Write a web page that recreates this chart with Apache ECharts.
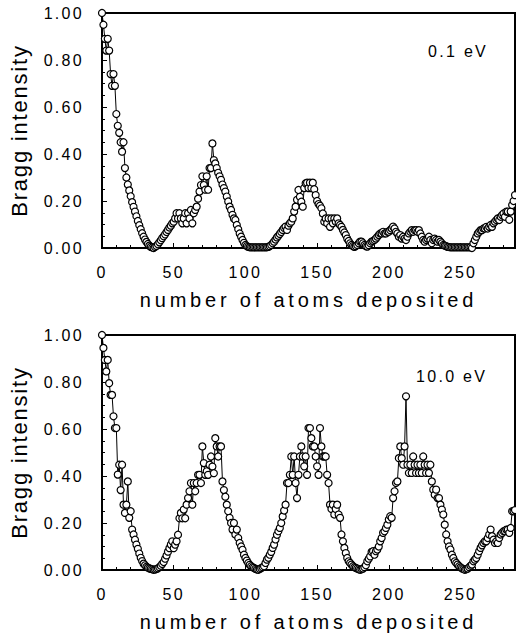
<!DOCTYPE html>
<html>
<head>
<meta charset="utf-8">
<script src="https://cdn.jsdelivr.net/npm/echarts@6/dist/echarts.min.js"></script>
<style>
  html, body { margin: 0; padding: 0; background: #fff; }
  #chart { width: 516px; height: 639px; }
</style>
</head>
<body>
<div id="chart"></div>
<script>
// Bragg intensity per deposited atom (index = number of atoms deposited, 0..288)
const intensity01eV = [
  1.00, 0.95, 0.89, 0.84, 0.89, 0.84, 0.74, 0.69, 0.74, 0.69,
  0.57, 0.52, 0.49, 0.45, 0.41, 0.45, 0.34, 0.30, 0.27, 0.245,
  0.22, 0.195, 0.175, 0.155, 0.135, 0.115, 0.097, 0.08, 0.063, 0.048,
  0.036, 0.026, 0.017, 0.01, 0.005, 0.002, 0.0, 0.004, 0.009, 0.016,
  0.024, 0.033, 0.042, 0.05, 0.058, 0.068, 0.077, 0.087, 0.095, 0.105,
  0.112, 0.126, 0.148, 0.126, 0.148, 0.126, 0.105, 0.126, 0.148, 0.105,
  0.148, 0.126, 0.162, 0.105, 0.148, 0.162, 0.176, 0.21, 0.24, 0.268,
  0.305, 0.268, 0.248, 0.305, 0.248, 0.34, 0.34, 0.445, 0.374, 0.36,
  0.34, 0.32, 0.305, 0.29, 0.27, 0.255, 0.24, 0.219, 0.198, 0.176,
  0.162, 0.141, 0.126, 0.119, 0.098, 0.08, 0.062, 0.048, 0.034, 0.022,
  0.013, 0.008, 0.005, 0.003, 0.003, 0.003, 0.003, 0.003, 0.003, 0.003,
  0.003, 0.003, 0.003, 0.003, 0.003, 0.003, 0.005, 0.008, 0.013, 0.02,
  0.027, 0.036, 0.045, 0.052, 0.06, 0.068, 0.077, 0.085, 0.091, 0.077,
  0.095, 0.105, 0.112, 0.126, 0.155, 0.176, 0.205, 0.247, 0.218, 0.197,
  0.176, 0.255, 0.275, 0.278, 0.255, 0.278, 0.255, 0.278, 0.25, 0.225,
  0.2, 0.187, 0.18, 0.169, 0.147, 0.112, 0.126, 0.105, 0.126, 0.09,
  0.126, 0.105, 0.126, 0.112, 0.126, 0.105, 0.098, 0.09, 0.077, 0.066,
  0.055, 0.04, 0.03, 0.02, 0.013, 0.008, 0.005, 0.008, 0.013, 0.02,
  0.027, 0.027, 0.02, 0.013, 0.008, 0.006, 0.012, 0.02, 0.027, 0.03,
  0.034, 0.04, 0.048, 0.055, 0.062, 0.062, 0.069, 0.062, 0.062, 0.069,
  0.069, 0.076, 0.083, 0.091, 0.083, 0.069, 0.062, 0.048, 0.055, 0.04,
  0.048, 0.04, 0.034, 0.048, 0.062, 0.069, 0.076, 0.069, 0.076, 0.076,
  0.069, 0.076, 0.062, 0.048, 0.034, 0.027, 0.034, 0.04, 0.048, 0.034,
  0.02, 0.034, 0.04, 0.034, 0.027, 0.034, 0.027, 0.02, 0.013, 0.01,
  0.008, 0.005, 0.004, 0.003, 0.003, 0.003, 0.003, 0.003, 0.003, 0.003,
  0.003, 0.003, 0.003, 0.003, 0.003, 0.003, 0.003, 0.003, 0.0, 0.02,
  0.034, 0.048, 0.062, 0.069, 0.076, 0.076, 0.083, 0.083, 0.09, 0.083,
  0.09, 0.098, 0.09, 0.105, 0.112, 0.119, 0.126, 0.119, 0.133, 0.14,
  0.147, 0.133, 0.155, 0.155, 0.12, 0.155, 0.183, 0.2, 0.225
];
const intensity10eV = [
  1.00, 0.945, 0.894, 0.845, 0.894, 0.795, 0.745, 0.745, 0.654, 0.604,
  0.604, 0.406, 0.448, 0.34, 0.448, 0.278, 0.243, 0.278, 0.377, 0.222,
  0.25, 0.172, 0.151, 0.129, 0.108, 0.09, 0.07, 0.052, 0.038, 0.027,
  0.02, 0.014, 0.01, 0.007, 0.005, 0.003, 0.001, 0.002, 0.004, 0.007,
  0.012, 0.018, 0.026, 0.034, 0.048, 0.062, 0.078, 0.093, 0.108, 0.122,
  0.093, 0.108, 0.122, 0.15, 0.22, 0.243, 0.22, 0.257, 0.22, 0.278,
  0.306, 0.335, 0.37, 0.278, 0.37, 0.335, 0.37, 0.405, 0.405, 0.37,
  0.526, 0.455, 0.405, 0.42, 0.405, 0.448, 0.483, 0.44, 0.412, 0.561,
  0.526, 0.483, 0.526, 0.526, 0.377, 0.34, 0.312, 0.278, 0.25, 0.222,
  0.2, 0.172, 0.2, 0.151, 0.172, 0.136, 0.115, 0.1, 0.086, 0.065,
  0.051, 0.04, 0.03, 0.022, 0.016, 0.012, 0.009, 0.005, 0.002, 0.001,
  0.004, 0.008, 0.012, 0.016, 0.03, 0.044, 0.052, 0.065, 0.077, 0.094,
  0.108, 0.13, 0.15, 0.165, 0.179, 0.2, 0.228, 0.253, 0.278, 0.37,
  0.37, 0.405, 0.483, 0.405, 0.483, 0.37, 0.306, 0.405, 0.483, 0.526,
  0.483, 0.441, 0.483, 0.405, 0.604, 0.604, 0.561, 0.526, 0.526, 0.483,
  0.441, 0.405, 0.604, 0.526, 0.483, 0.483, 0.483, 0.405, 0.37, 0.278,
  0.26, 0.278, 0.236, 0.26, 0.278, 0.236, 0.222, 0.151, 0.122, 0.094,
  0.072, 0.051, 0.037, 0.03, 0.023, 0.016, 0.012, 0.009, 0.006, 0.003,
  0.001, 0.003, 0.006, 0.012, 0.02, 0.037, 0.048, 0.058, 0.077, 0.08,
  0.065, 0.08, 0.087, 0.1, 0.122, 0.136, 0.158, 0.165, 0.179, 0.193,
  0.215, 0.229, 0.222, 0.306, 0.335, 0.37, 0.377, 0.476, 0.526, 0.476,
  0.448, 0.526, 0.739, 0.448, 0.413, 0.448, 0.413, 0.483, 0.448, 0.413,
  0.448, 0.413, 0.448, 0.413, 0.483, 0.448, 0.413, 0.448, 0.413, 0.448,
  0.377, 0.342, 0.32, 0.342, 0.306, 0.306, 0.278, 0.257, 0.236, 0.193,
  0.151, 0.122, 0.1, 0.087, 0.065, 0.051, 0.037, 0.03, 0.023, 0.016,
  0.011, 0.007, 0.004, 0.001, 0.003, 0.006, 0.012, 0.018, 0.023, 0.037,
  0.044, 0.051, 0.065, 0.08, 0.094, 0.105, 0.115, 0.122, 0.122, 0.136,
  0.151, 0.172, 0.144, 0.129, 0.115, 0.122, 0.115, 0.136, 0.151, 0.158,
  0.165, 0.165, 0.172, 0.172, 0.158, 0.179, 0.25, 0.25, 0.255
];
const panelLabels = ['0.1 eV', '10.0 eV'];
const xTitle = 'number of atoms deposited';
const yTitle = 'Bragg intensity';
const xMax = 288;

const FONT = "'Liberation Sans', Arial, sans-serif";
const toPairs = arr => arr.map((v, i) => [i, v]);

function xAxisFor(gi) {
  return {
    type: 'value', gridIndex: gi, min: 0, max: xMax, interval: 50,
    name: xTitle, nameLocation: 'middle', nameGap: 42,
    nameTextStyle: { fontFamily: FONT, fontSize: 20, color: '#000' },
    axisLine: { show: true, lineStyle: { color: '#000', width: 2 } },
    axisTick: { show: true, inside: true, length: 5, lineStyle: { color: '#000', width: 1 } },
    minorTick: { show: true, splitNumber: 5, length: 3, lineStyle: { color: '#000', width: 1 } },
    axisLabel: { fontFamily: FONT, fontSize: 16, color: '#000', margin: 16, showMaxLabel: false },
    splitLine: { show: false }, minorSplitLine: { show: false }
  };
}
function yAxisFor(gi) {
  return {
    type: 'value', gridIndex: gi, min: 0, max: 1, interval: 0.2,
    name: yTitle, nameLocation: 'middle', nameGap: 72,
    nameTextStyle: { fontFamily: FONT, fontSize: 22, color: '#000' },
    axisLine: { show: true, lineStyle: { color: '#000', width: 2 } },
    axisTick: { show: true, inside: true, length: 5, lineStyle: { color: '#000', width: 1 } },
    minorTick: { show: true, splitNumber: 4, length: 3, lineStyle: { color: '#000', width: 1 } },
    axisLabel: { fontFamily: FONT, fontSize: 16, color: '#000', margin: 18,
                 formatter: v => v.toFixed(2) },
    splitLine: { show: false }, minorSplitLine: { show: false }
  };
}
function seriesFor(gi, arr) {
  return {
    type: 'line', xAxisIndex: gi, yAxisIndex: gi, data: toPairs(arr),
    symbol: 'circle', symbolSize: 7, showAllSymbol: true,
    lineStyle: { color: '#000', width: 1 },
    itemStyle: { color: '#fff', borderColor: '#000', borderWidth: 1.2 },
    emphasis: { disabled: true }, z: 3
  };
}

const chart = echarts.init(document.getElementById('chart'), null, { renderer: 'svg', width: 516, height: 639 });
chart.setOption({
  animation: false,
  backgroundColor: '#fff',
  title: [
    { text: panelLabels[0], left: 423, top: 38, textStyle: { fontFamily: FONT, fontSize: 16, fontWeight: 'normal', color: '#000' } },
    { text: panelLabels[1], left: 411, top: 363, textStyle: { fontFamily: FONT, fontSize: 16, fontWeight: 'normal', color: '#000' } }
  ],
  grid: [
    { left: 101, right: 1, top: 13, height: 235, show: true, borderColor: '#000', borderWidth: 2, backgroundColor: 'transparent' },
    { left: 101, right: 1, top: 335, height: 235, show: true, borderColor: '#000', borderWidth: 2, backgroundColor: 'transparent' }
  ],
  xAxis: [xAxisFor(0), xAxisFor(1)],
  yAxis: [yAxisFor(0), yAxisFor(1)],
  series: [seriesFor(0, intensity01eV), seriesFor(1, intensity10eV)]
});

const spacingByText = { [xTitle]: 3.8, [yTitle]: 1.8 };
function applySpacing() {
  document.querySelectorAll('#chart text').forEach(t => {
    const txt = (t.textContent || '').trim();
    const s = spacingByText[txt] !== undefined ? spacingByText[txt] : 2.3;
    t.style.letterSpacing = s + 'px';
  });
}
chart.on('finished', applySpacing);
applySpacing();
setTimeout(applySpacing, 50);
</script>
</body>
</html>
